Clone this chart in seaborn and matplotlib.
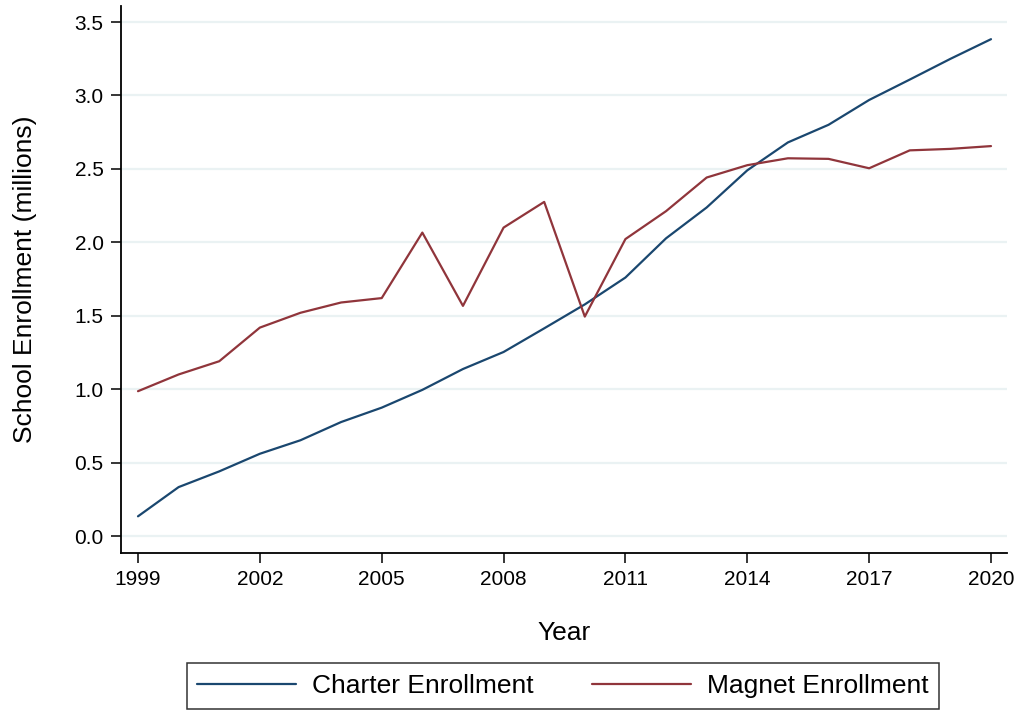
import matplotlib
matplotlib.use("Agg")
import matplotlib.pyplot as plt
import seaborn as sns
import pandas as pd
from matplotlib.lines import Line2D

years = list(range(1999, 2021))
charter = [0.134, 0.333, 0.44, 0.56, 0.652, 0.776, 0.874, 0.995, 1.137, 1.253, 1.414,
           1.577, 1.76, 2.027, 2.237, 2.49, 2.68, 2.80, 2.969, 3.108, 3.249, 3.383]
magnet = [0.986, 1.10, 1.19, 1.419, 1.52, 1.59, 1.62, 2.066, 1.567, 2.10, 2.275,
          1.494, 2.022, 2.212, 2.441, 2.525, 2.572, 2.568, 2.504, 2.626, 2.636, 2.655]
series_names = ["Charter Enrollment", "Magnet Enrollment"]
colors = ["#1A476F", "#90353B"]
x_ticks = [1999, 2002, 2005, 2008, 2011, 2014, 2017, 2020]
y_ticks = [0.0, 0.5, 1.0, 1.5, 2.0, 2.5, 3.0, 3.5]

sns.set_style("white")
plt.rcParams['font.family'] = ['Liberation Sans', 'DejaVu Sans']
plt.rcParams['text.color'] = 'black'
plt.rcParams['axes.labelcolor'] = 'black'
plt.rcParams['xtick.color'] = 'black'
plt.rcParams['ytick.color'] = 'black'

df = pd.DataFrame({
    "Year": years * 2,
    "Value": charter + magnet,
    "Series": [series_names[0]] * len(years) + [series_names[1]] * len(years),
})

W, H = 1019, 711
left_px, right_px, top_px, bottom_px = 121, 1007, 6, 553
fig = plt.figure(figsize=(W / 100, H / 100), dpi=100)
ax = fig.add_axes([left_px / W, 1 - bottom_px / H, (right_px - left_px) / W,
                   (bottom_px - top_px) / H])

for yv in y_ticks:
    ax.axhline(yv, color="#EAF2F3", lw=1.6, zorder=0)

sns.lineplot(data=df, x="Year", y="Value", hue="Series", palette=colors,
             linewidth=1.6, ax=ax, legend=False)

ppu = (536 - 22) / 3.5
ppy = (991 - 138) / 21
ax.set_xlim(1999 - (138 - left_px) / ppy, 2020 + (right_px - 991) / ppy)
ax.set_ylim(-(bottom_px - 536) / ppu, (536 - top_px) / ppu)
ax.set_xticks(x_ticks)
ax.set_xticklabels([str(t) for t in x_ticks])
ax.set_yticks(y_ticks)
ax.set_yticklabels([f"{t:.1f}" for t in y_ticks])
ax.tick_params(axis="both", direction="out", length=7.5, width=1.1, color="black",
               labelsize=15, pad=5, bottom=True, left=True, labelcolor="black")
for s in ["top", "right"]:
    ax.spines[s].set_visible(False)
for s in ["left", "bottom"]:
    ax.spines[s].set_color("black")
    ax.spines[s].set_linewidth(1.3)

ax.set_xlabel("Year", fontsize=19, labelpad=23)
ax.set_ylabel("School Enrollment (millions)", fontsize=19, labelpad=27)

handles = [Line2D([0], [0], color=c, lw=1.6) for c in colors]
leg = fig.legend(handles, series_names, loc="center", ncol=2,
                 bbox_to_anchor=(562.7 / W, 1 - 686 / H), fontsize=19,
                 frameon=True, fancybox=False, edgecolor="black",
                 handlelength=3.75, handletextpad=0.6, columnspacing=2.2,
                 borderpad=0.4, borderaxespad=0)
leg.get_frame().set_linewidth(1.1)

fig.savefig("out.png", dpi=100, facecolor="white")
